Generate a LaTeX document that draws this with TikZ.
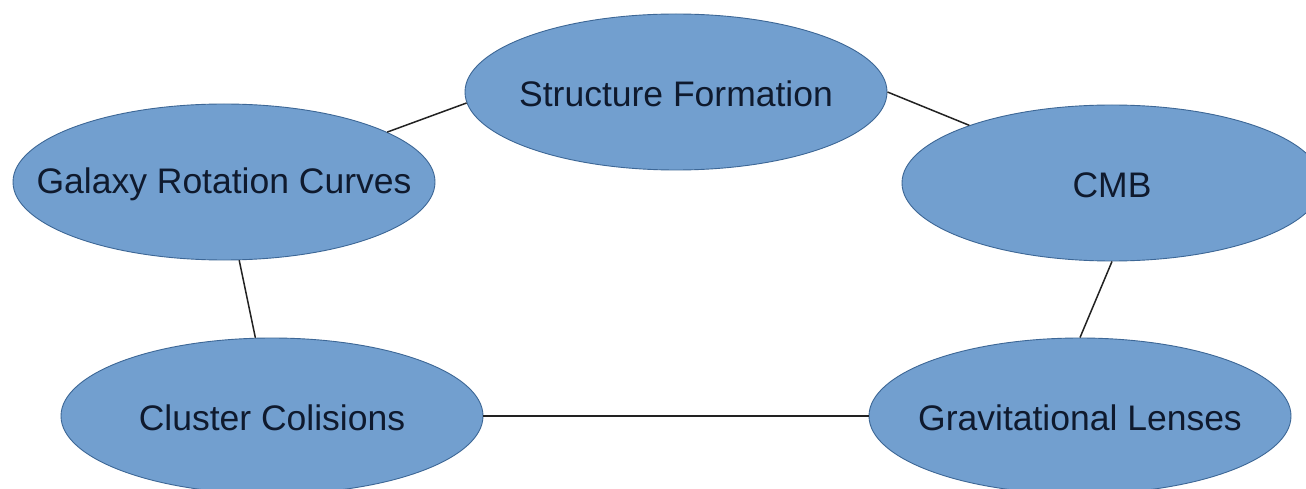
\documentclass[tikz,border=0pt]{standalone}
\usepackage{fontspec}
\setmainfont{Liberation Sans}
\usetikzlibrary{shapes.geometric}
\definecolor{bubfill}{HTML}{729FCF}
\definecolor{bubline}{HTML}{3D6796}
\definecolor{txtcol}{HTML}{0F1A2E}
\definecolor{linkcol}{HTML}{222222}
\begin{document}
\begin{tikzpicture}[x=1pt,y=1pt,
  bub/.style={ellipse,draw=bubline,fill=bubfill,line width=0.9pt,minimum width=422pt,minimum height=156pt,inner sep=0pt},
  lbl/.style={text=txtcol,font=\fontsize{35.5}{40}\selectfont,inner sep=0pt,yshift=-2pt},
  link/.style={draw=linkcol,line width=1.5pt}]
\useasboundingbox[fill=white] (0,0) rectangle (1306,488);
\begin{scope}
\clip (0,0) rectangle (1306,488);
\node[bub] (sf)  at (676,396) {};
\node[bub] (gal) at (224,306) {};
\node[bub, minimum width=420pt] (cmb) at (1112,305) {};
\node[bub] (clu) at (272,72) {};
\node[bub] (gra) at (1080,72) {};
\node[lbl] (sft)  at (sf)  {Structure Formation};
\node[lbl] (galt) at (gal) {Galaxy Rotation Curves};
\node[lbl] (cmbt) at (cmb) {CMB};
\node[lbl] (clut) at (clu) {Cluster Colisions};
\node[lbl] (grat) at (gra) {Gravitational Lenses};
\draw[link] (gal.17.7) -- (sf.183.5);
\draw[link] (sf.-0.3) -- (cmb.158);
\draw[link] (cmb.south) -- (gra.north);
\draw[link] (gal.281.5) -- (clu.102.3);
\draw[link] (clu.east) -- (gra.west);
\end{scope}
\end{tikzpicture}
\end{document}
